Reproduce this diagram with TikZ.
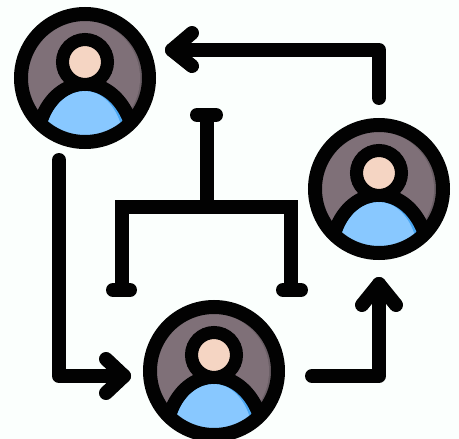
\documentclass[tikz,border=0pt]{standalone}
\definecolor{paper}{HTML}{FBFFFD}
\definecolor{ring}{HTML}{7F7078}
\definecolor{ringdark}{HTML}{6B5F66}
\definecolor{skin}{HTML}{F5D5C3}
\definecolor{shirt}{HTML}{88C8FF}
\definecolor{shirtdark}{HTML}{4AA6F2}
\definecolor{ink}{HTML}{020202}
\tikzset{
  wire/.style={draw=ink,line width=14pt,line cap=round,line join=round},
  tree/.style={draw=ink,line width=14pt,line cap=round,line join=miter},
  avatarnode/.style={circle,draw=ink,line width=14pt,minimum size=128pt,inner sep=0pt,outer sep=0pt}
}
\newcommand{\avatarat}[2]{%
  \begin{scope}[shift={(#1,#2)}]
    \fill[ringdark] (0,0) circle[radius=58];
    \begin{scope}
      \clip (0,0) circle[radius=58];
      \fill[ring] (-3,0) circle[radius=58];
      \draw[ink,line width=28pt,line join=round] (-37,44) .. controls (-30,24) and (-15,13) .. (0,13) .. controls (15,13) and (30,24) .. (38,44);
      \fill[shirtdark] (-37,44) .. controls (-30,24) and (-15,13) .. (0,13) .. controls (15,13) and (30,24) .. (38,44) -- (38,62) -- (-37,62) -- cycle;
      \fill[shirt] (-37,44) .. controls (-30,24) and (-15,13) .. (0,13) .. controls (14,13) and (28,24) .. (35,44) -- (35,62) -- (-37,62) -- cycle;
    \end{scope}
    \draw[ink,line width=13pt,fill=skin] (0,-16) circle[radius=22.5];
  \end{scope}}
\begin{document}
\begin{tikzpicture}[x=1pt,y=-1pt]
  \useasboundingbox (0,0) rectangle (459,439);
  \clip (0,0) rectangle (459,439);
  \fill[paper] (0,0) rectangle (459,439);

  \avatarat{85}{78}
  \avatarat{379}{189}
  \avatarat{214}{371}
  \node[avatarnode] (tl) at (85,78) {};
  \node[avatarnode] (rt) at (379,189) {};
  \node[avatarnode] (bt) at (214,371) {};

  % arrow: right avatar to top-left avatar
  \coordinate (a1s) at (379,98);
  \coordinate (a1c) at (379,50);
  \coordinate (a1t) at (172,50);
  \coordinate (a1u) at (192,33);
  \coordinate (a1d) at (192,66);
  \draw[wire] (a1s) -- (a1c) -- (a1t);
  \draw[wire] (a1u) -- (a1t) -- (a1d);

  % arrow: top-left avatar to bottom avatar
  \coordinate (a2s) at (59,160);
  \coordinate (a2c) at (59,376);
  \coordinate (a2t) at (124,376);
  \coordinate (a2u) at (106,359);
  \coordinate (a2d) at (106,393);
  \draw[wire] (a2s) -- (a2c) -- (a2t);
  \draw[wire] (a2u) -- (a2t) -- (a2d);

  % arrow: bottom avatar to right avatar
  \coordinate (a3s) at (312,376);
  \coordinate (a3c) at (379,376);
  \coordinate (a3t) at (379,284);
  \coordinate (a3l) at (362,305);
  \coordinate (a3r) at (396,305);
  \draw[wire] (a3s) -- (a3c) -- (a3t);
  \draw[wire] (a3l) -- (a3t) -- (a3r);

  % tree
  \coordinate (tTopL) at (197,115);
  \coordinate (tTopR) at (216,115);
  \coordinate (tStem) at (207,115);
  \coordinate (tMid) at (207,207);
  \coordinate (tL) at (122,207);
  \coordinate (tR) at (291,207);
  \coordinate (tLb) at (122,290);
  \coordinate (tRb) at (291,290);
  \coordinate (tLbl) at (113,290);
  \coordinate (tLbr) at (130,290);
  \coordinate (tRbl) at (283,290);
  \coordinate (tRbr) at (301,290);
  \draw[tree] (tTopL) -- (tTopR);
  \draw[tree,line cap=butt] (tStem) -- (tMid);
  \draw[tree,line cap=butt] (tLb) -- (tL) -- (tR) -- (tRb);
  \draw[tree] (tLbl) -- (tLbr);
  \draw[tree] (tRbl) -- (tRbr);
\end{tikzpicture}
\end{document}
